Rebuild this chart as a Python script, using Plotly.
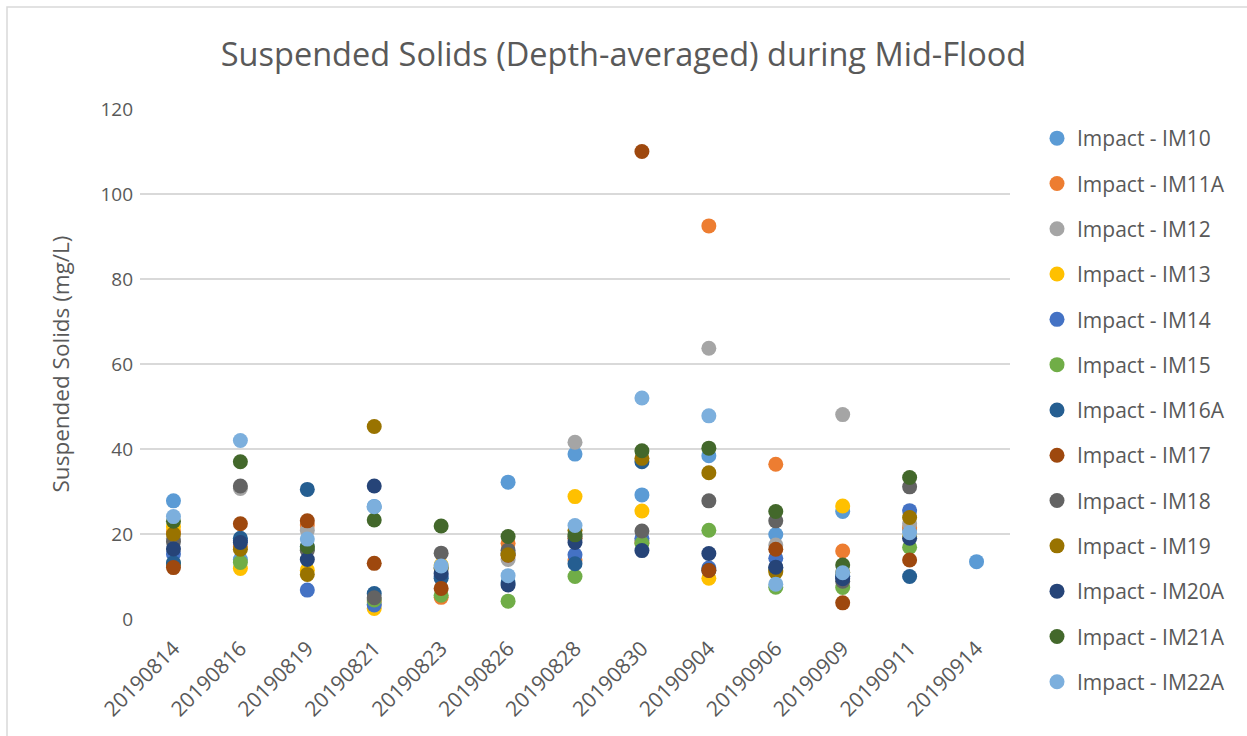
import plotly.graph_objects as go

# Sampling dates (category axis)
dates = ["20190814", "20190816", "20190819", "20190821", "20190823", "20190826",
         "20190828", "20190830", "20190904", "20190906", "20190909", "20190911",
         "20190914"]

# Depth-averaged suspended solids (mg/L) per monitoring station
im10 = [27.8, 14.0, 17.0, 26.5, 12.0, 32.2, 38.8, 29.2, 38.4, 19.9, 25.3, 21.0, 13.5]
im11a = [20.5, 17.0, 22.1, 4.0, 5.1, 17.8, 13.9, 18.0, 92.5, 36.4, 16.0, 21.5, None]
im12 = [19.0, 30.7, 20.8, 3.5, 12.0, 14.0, 41.6, 18.5, 63.7, 17.4, 48.1, 22.4, None]
im13 = [21.7, 11.9, 11.5, 2.5, 12.7, 15.5, 28.8, 25.4, 9.6, 11.5, 26.6, 19.5, None]
im14 = [15.3, 18.5, 6.8, 3.3, 10.0, 15.5, 15.1, 19.0, 12.0, 14.3, 10.0, 25.5, None]
im15 = [13.0, 13.3, 16.5, 4.5, 5.6, 4.2, 10.0, 17.8, 20.9, 7.5, 7.4, 16.9, None]
im16a = [13.2, 19.0, 30.5, 6.0, 9.6, 8.5, 13.0, 37.0, 11.5, 12.0, 10.0, 10.0, None]
im17 = [12.1, 22.4, 23.1, 13.1, 7.2, 15.0, 19.0, 110.0, 11.4, 16.4, 3.8, 13.9, None]
im18 = [18.2, 31.3, 16.2, 5.0, 15.5, 16.2, 19.5, 20.7, 27.8, 23.1, 8.9, 31.1, None]
im19 = [20.0, 16.4, 10.5, 45.3, 12.0, 15.1, 20.9, 37.8, 34.4, 11.1, 11.0, 23.9, None]
im20a = [16.5, 18.0, 14.0, 31.3, 10.7, 8.0, 18.0, 16.1, 15.4, 12.2, 9.5, 19.0, None]
im21a = [23.0, 37.0, 17.0, 23.3, 21.9, 19.4, 19.8, 39.6, 40.2, 25.3, 12.7, 33.3, None]
im22a = [24.1, 42.0, 18.8, 26.4, 12.5, 10.2, 22.0, 52.0, 47.8, 8.2, 10.9, 20.3, None]

series = [
    ("Impact - IM10", im10, "#5B9BD5"),
    ("Impact - IM11A", im11a, "#ED7D31"),
    ("Impact - IM12", im12, "#A5A5A5"),
    ("Impact - IM13", im13, "#FFC000"),
    ("Impact - IM14", im14, "#4472C4"),
    ("Impact - IM15", im15, "#70AD47"),
    ("Impact - IM16A", im16a, "#255E91"),
    ("Impact - IM17", im17, "#9E480E"),
    ("Impact - IM18", im18, "#636363"),
    ("Impact - IM19", im19, "#997300"),
    ("Impact - IM20A", im20a, "#264478"),
    ("Impact - IM21A", im21a, "#43682B"),
    ("Impact - IM22A", im22a, "#7CAFDD"),
]

FONT = "Open Sans"
TXT = "#595959"

fig = go.Figure()
for name, vals, color in series:
    fig.add_trace(go.Scatter(
        x=dates, y=vals, mode="markers", name=name, legendgroup=name,
        marker=dict(size=15, color=color, line=dict(width=0)),
    ))

L, R, T, B = 140, 237, 109, 117
W, H = 1247, 736
pw, ph = W - L - R, H - T - B

fig.update_layout(
    width=W, height=H,
    margin=dict(l=L, r=R, t=T, b=B),
    paper_bgcolor="white", plot_bgcolor="white",
    font=dict(family=FONT, color=TXT, size=18),
    title=dict(text="Suspended Solids (Depth-averaged) during Mid-Flood",
               x=0.5, xanchor="center", y=1 - 55 / H, yanchor="middle",
               font=dict(family=FONT, size=32.5, color=TXT)),
    xaxis=dict(type="category", tickangle=-45, showgrid=False, zeroline=False,
               showline=False, ticks="", tickfont=dict(size=21, color=TXT),
               ticklabelstandoff=12, range=[-0.5, len(dates) - 0.5]),
    yaxis=dict(range=[0, 120], dtick=20, showgrid=True, gridcolor="#D9D9D9",
               gridwidth=1.5, zeroline=False, showline=False, ticks="",
               tickfont=dict(size=19, color=TXT), ticklabelstandoff=6,
               title=dict(text="Suspended Solids (mg/L)", standoff=24,
                          font=dict(size=22.5, color=TXT))),
    legend=dict(x=(1037 - L) / pw, xanchor="left", y=1 - (118 - T) / ph,
                yanchor="top", traceorder="grouped", tracegroupgap=15,
                font=dict(size=21, color=TXT), itemwidth=30, maxheight=720,
                bgcolor="rgba(0,0,0,0)"),
    showlegend=True,
)

# Chart frame
fig.add_shape(type="rect", xref="paper", yref="paper",
              x0=(7 - L) / pw, x1=(W + 5 - L) / pw,
              y0=-(H + 5 - T - ph) / ph, y1=1 + (T - 7) / ph,
              line=dict(color="#D9D9D9", width=1.5), fillcolor="rgba(0,0,0,0)",
              layer="below")

fig.write_html("out.html")
